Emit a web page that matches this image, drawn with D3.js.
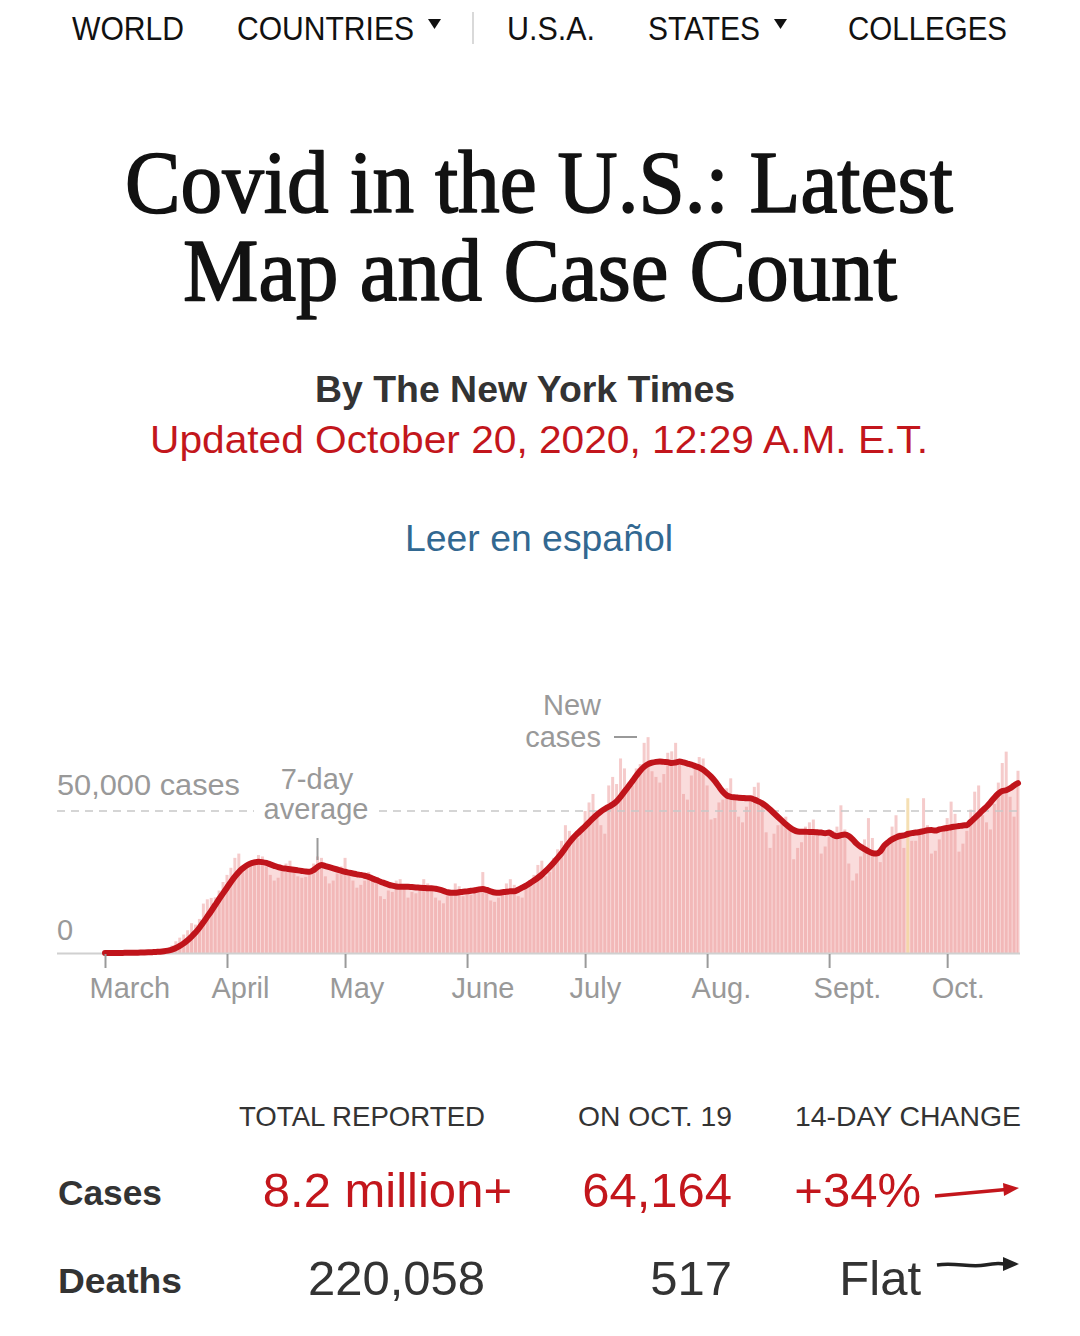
<!DOCTYPE html>
<html><head><meta charset="utf-8">
<script src="https://cdn.jsdelivr.net/npm/d3@7"></script>
<style>html,body{margin:0;padding:0;background:#fff;} svg{display:block;}</style>
</head><body>
<svg id="c" width="1080" height="1336"></svg>
<script>
// ---------------- DATA ----------------
const firstDay = "2020-03-01";
const newCases = [
 8, 23, 23, 26, 77, 70, 115,
 111, 195, 291, 271, 414, 536, 639,
 732, 1144, 1556, 2624, 4130, 5397, 6500,
 8000, 10500, 10000, 12000, 17400, 18900, 19400,
 19600, 22000, 25000, 27500, 30000, 33500, 35000,
 28500, 29800, 31500, 33000, 34500, 34000, 30500,
 27500, 25500, 26500, 30500, 31500, 32500, 30000,
 27000, 26500, 26800, 29000, 31500, 34000, 33500,
 27000, 24500, 25500, 28000, 30500, 33500, 29000,
 25500, 23000, 24000, 25500, 28500, 27000, 25000,
 20000, 19000, 22000, 21500, 25500, 26000, 24000,
 19500, 21500, 21000, 22500, 26000, 24500, 23000,
 19500, 18500, 17500, 20000, 22000, 24500, 23500,
 20000, 21000, 20500, 21500, 22500, 28500, 23000,
 18500, 18000, 19500, 21000, 24500, 26000, 24000,
 20000, 19500, 23000, 25500, 27500, 31000, 32500,
 27000, 28500, 33500, 36500, 39500, 45000, 43000,
 41000, 40500, 44000, 50000, 53000, 56000, 48000,
 45000, 42000, 59000, 62000, 59500, 68500, 65000,
 60000, 59000, 65000, 66500, 74000, 76000, 64000,
 62000, 60000, 63000, 70500, 71000, 74000, 67000,
 56000, 54000, 62500, 66000, 69000, 68500, 59000,
 47000, 47500, 53000, 54000, 58000, 61500, 56000,
 48000, 46000, 51500, 54000, 58500, 60000, 52000,
 42500, 37000, 42000, 45000, 47500, 48000, 45000,
 33000, 37000, 39000, 44500, 46000, 47000, 43500,
 35000, 37500, 41000, 43000, 44500, 52000, 43500,
 31500, 25500, 28000, 34000, 40000, 47500, 40500,
 34500, 32000, 38000, 39500, 44500, 48500, 42500,
 37000, 54500, 39500, 39500, 43000, 54500, 45000,
 35000, 36000, 40000, 44000, 47500, 53300, 49000,
 35700, 38500, 43000, 50500, 56800, 59000, 48500,
 46000, 43500, 52500, 60000, 66900, 70900, 55000,
 48000, 64164
];
const sevenDayAvg = [
 10, 15, 20, 25, 35, 45, 60,
 80, 100, 140, 180, 230, 300, 380,
 470, 620, 850, 1200, 1750, 2500, 3400,
 4500, 5800, 7200, 8900, 10800, 12800, 14800,
 16900, 19000, 21000, 23000, 25000, 26900, 28500,
 29800, 30800, 31500, 31900, 32100, 32000, 31700,
 31200, 30700, 30200, 29900, 29700, 29500, 29300,
 29100, 28900, 28700, 28600, 29200, 30300, 31000,
 30600, 30200, 29800, 29400, 29000, 28600, 28300,
 28000, 27700, 27500, 27200, 26800, 26200, 25700,
 25100, 24600, 24100, 23700, 23400, 23300, 23300,
 23300, 23200, 23100, 23000, 22900, 22800, 22800,
 22600, 22300, 21900, 21400, 21200, 21200, 21400,
 21600, 21700, 21900, 22100, 22400, 22500, 22200,
 21700, 21300, 21200, 21400, 21600, 21700, 21700,
 22300, 23000, 23700, 24600, 25500, 26500, 27600,
 28900, 30300, 31800, 33400, 35100, 37000, 38900,
 40600, 42000, 43300, 44600, 46000, 47400, 48700,
 49800, 50700, 51500, 52300, 53400, 55000, 56800,
 58600, 60500, 62400, 64200, 65600, 66500, 67000,
 67300, 67400, 67300, 67200, 66900, 67100, 67400,
 67100, 66700, 66300, 65800, 65300, 64500, 63400,
 62100, 60500, 58600, 56800, 55500, 55000, 54800,
 54700, 54600, 54500, 54500, 54000, 53400, 52700,
 51700, 50500, 49200, 47900, 46600, 45300, 44200,
 43300, 42800, 42700, 42700, 42600, 42600, 42500,
 42400, 42200, 42400, 41600, 41100, 41500, 41700,
 41200, 40000, 38500, 37400, 36600, 35800, 35200,
 35000, 35800, 37800, 39000, 40000, 40700, 41200,
 41400, 41900, 42200, 42400, 42600, 42900, 43200,
 43300, 43100, 43500, 43800, 44000, 44300, 44500,
 44700, 44900, 45000, 46200, 47500, 48800, 50200,
 51500, 53000, 54700, 56100, 57000, 57300, 58000,
 59000, 59800
];
const flaggedDays = ["2020-09-21"];
const monthTicks = ["2020-03-01","2020-04-01","2020-05-01","2020-06-01","2020-07-01","2020-08-01","2020-09-01","2020-10-01"];
const monthLabels = ["March","April","May","June","July","Aug.","Sept.","Oct."];
const yTickValues = [0, 50000];
const yTickLabels = ["0", "50,000 cases"];
const navItems = ["WORLD","COUNTRIES","U.S.A.","STATES","COLLEGES"];
const navHasMenu = [false, true, false, true, false];
const titleLines = ["Covid in the U.S.: Latest", "Map and Case Count"];
const byline = "By The New York Times";
const updated = "Updated October 20, 2020, 12:29 A.M. E.T.";
const spanishLink = "Leer en español";
const tableHeaders = ["TOTAL REPORTED","ON OCT. 19","14-DAY CHANGE"];
const rowLabels = ["Cases","Deaths"];
const totalReported = ["8.2 million+","220,058"];
const onDay = ["64,164","517"];
const changeLabels = ["+34%","Flat"];

// ---------------- DRAW ----------------
const svg = d3.select("#c");
const SANS = "'Liberation Sans', Arial, sans-serif";
const SERIF = "'Liberation Serif', 'Times New Roman', serif";
const RED = "#c3161c";
const parse = d3.timeParse("%Y-%m-%d");
const day0 = parse(firstDay);
const dates = newCases.map((_, i) => d3.timeDay.offset(day0, i));

// nav
const navPos = [[72,112],[237,177],[507,88],[648,112],[848,159]];
const nav = svg.append("g");
navItems.forEach((t, i) => {
  nav.append("text").attr("x", navPos[i][0]).attr("y", 40)
    .attr("font-family", SANS).attr("font-size", 33).attr("fill", "#111")
    .attr("textLength", navPos[i][1]).attr("lengthAdjust", "spacingAndGlyphs").text(t);
  if (navHasMenu[i]) {
    const tx = navPos[i][0] + navPos[i][1] + 14;
    nav.append("path").attr("d", `M${tx},19 L${tx+13},19 L${tx+6.5},29 Z`).attr("fill", "#111");
  }
});
nav.append("line").attr("x1", 473).attr("x2", 473).attr("y1", 12).attr("y2", 44)
  .attr("stroke", "#ccc").attr("stroke-width", 1.5);

// title
const titlePos = [[125, 212, 828], [183, 300, 714]];
titleLines.forEach((t, i) => {
  svg.append("text").attr("x", titlePos[i][0]).attr("y", titlePos[i][1])
    .attr("font-family", SERIF).attr("font-weight", 400).attr("font-size", 88).attr("fill", "#121212")
    .attr("stroke", "#121212").attr("stroke-width", 1.6).attr("stroke-linejoin", "round")
    .attr("textLength", titlePos[i][2]).attr("lengthAdjust", "spacingAndGlyphs").text(t);
});
svg.append("text").attr("x", 315).attr("y", 402).attr("font-family", SANS).attr("font-weight", 700)
  .attr("font-size", 37).attr("fill", "#333").attr("textLength", 420).attr("lengthAdjust", "spacingAndGlyphs").text(byline);
svg.append("text").attr("x", 150).attr("y", 453).attr("font-family", SANS)
  .attr("font-size", 38).attr("fill", RED).attr("textLength", 778).attr("lengthAdjust", "spacingAndGlyphs").text(updated);
svg.append("text").attr("x", 405).attr("y", 551).attr("font-family", SANS)
  .attr("font-size", 37).attr("fill", "#326891").attr("textLength", 268).attr("lengthAdjust", "spacingAndGlyphs").text(spanishLink);

// chart
const x = d3.scaleTime().domain([day0, dates[dates.length - 1]]).range([105, 1018]);
const y = d3.scaleLinear().domain([0, 50000]).range([953, 811]);
const chart = svg.append("g");

// area under 7-day average
const area = d3.area().x((d, i) => x(dates[i])).y0(y(0)).y1(d => y(d)).curve(d3.curveMonotoneX);
chart.append("path").datum(sevenDayAvg).attr("d", area).attr("fill", "#fadcdc");

// bars
const bw = 3.0;
const flagged = new Set(flaggedDays);
const fmt = d3.timeFormat("%Y-%m-%d");
chart.append("g").selectAll("rect").data(newCases).join("rect")
  .attr("x", (d, i) => x(dates[i]) - bw / 2)
  .attr("width", bw)
  .attr("y", d => y(d))
  .attr("height", d => y(0) - y(d))
  .attr("fill", (d, i) => flagged.has(fmt(dates[i])) ? "#f1d49a" : "#e88c8c")
  .attr("fill-opacity", (d, i) => flagged.has(fmt(dates[i])) ? 0.75 : 0.45);

// gridline at 50,000
chart.append("line").attr("x1", 57).attr("x2", 1020).attr("y1", y(yTickValues[1])).attr("y2", y(yTickValues[1]))
  .attr("stroke", "#c8c8c8").attr("stroke-width", 1.5).attr("stroke-dasharray", "8,6");
// baseline
chart.append("line").attr("x1", 57).attr("x2", 1020).attr("y1", y(0) + 0.5).attr("y2", y(0) + 0.5)
  .attr("stroke", "#d0d0d0").attr("stroke-width", 2);

// 7-day average line
const line = d3.line().x((d, i) => x(dates[i])).y(d => y(d)).curve(d3.curveMonotoneX);
chart.append("path").datum(sevenDayAvg).attr("d", line).attr("fill", "none")
  .attr("stroke", "#c0141b").attr("stroke-width", 6).attr("stroke-linejoin", "round").attr("stroke-linecap", "round");

// x axis
const xAxis = d3.axisBottom(x).tickValues(monthTicks.map(parse)).tickSize(14)
  .tickFormat((d, i) => monthLabels[i]);
const ax = chart.append("g").attr("transform", `translate(0,${y(0) + 1})`).call(xAxis);
ax.select(".domain").remove();
ax.selectAll(".tick line").attr("stroke", "#9a9a9a").attr("stroke-width", 2);
ax.selectAll(".tick text").attr("font-family", SANS).attr("font-size", 29).attr("fill", "#999")
  .attr("text-anchor", "start").attr("dx", -16).attr("dy", null).attr("y", 44);

// y labels
chart.append("text").attr("x", 57).attr("y", 940).attr("font-family", SANS).attr("font-size", 29)
  .attr("fill", "#999").text(yTickLabels[0]);
chart.append("text").attr("x", 57).attr("y", 795).attr("font-family", SANS).attr("font-size", 29)
  .attr("fill", "#999").attr("textLength", 183).attr("lengthAdjust", "spacingAndGlyphs").text(yTickLabels[1]);

// annotations
chart.append("rect").attr("x", 254).attr("y", 798).attr("width", 122).attr("height", 26).attr("fill", "#fff");
chart.append("text").attr("x", 317).attr("y", 789).attr("text-anchor", "middle").attr("font-family", SANS)
  .attr("font-size", 29).attr("fill", "#999").text("7-day");
chart.append("text").attr("x", 316).attr("y", 819).attr("text-anchor", "middle").attr("font-family", SANS)
  .attr("font-size", 29).attr("fill", "#999").text("average");
const ptr = x(parse("2020-04-24"));
chart.append("line").attr("x1", ptr).attr("x2", ptr).attr("y1", 838).attr("y2", 860)
  .attr("stroke", "#999").attr("stroke-width", 2);
chart.append("text").attr("x", 601).attr("y", 715).attr("text-anchor", "end").attr("font-family", SANS)
  .attr("font-size", 29).attr("fill", "#999").text("New");
chart.append("text").attr("x", 601).attr("y", 747).attr("text-anchor", "end").attr("font-family", SANS)
  .attr("font-size", 29).attr("fill", "#999").text("cases");
chart.append("line").attr("x1", 614).attr("x2", 637).attr("y1", 737).attr("y2", 737)
  .attr("stroke", "#999").attr("stroke-width", 2);

// table
const hdrPos = [[239, 246], [578, 154], [795, 226]];
tableHeaders.forEach((t, i) => {
  svg.append("text").attr("x", hdrPos[i][0]).attr("y", 1126).attr("font-family", SANS)
    .attr("font-size", 28).attr("fill", "#333").attr("textLength", hdrPos[i][1])
    .attr("lengthAdjust", "spacingAndGlyphs").text(t);
});
const rowY = [1206, 1294];
const rowW = [104, 124];
rowLabels.forEach((t, i) => {
  svg.append("text").attr("x", 58).attr("y", rowY[i] - 1).attr("font-family", SANS).attr("font-weight", 700)
    .attr("font-size", 35).attr("fill", "#333").attr("textLength", rowW[i])
    .attr("lengthAdjust", "spacingAndGlyphs").text(t);
  const col = i === 0 ? RED : "#333";
  svg.append("text").attr("x", 512 - (i === 1 ? 27 : 0)).attr("y", rowY[i] + 1).attr("text-anchor", "end")
    .attr("font-family", SANS).attr("font-size", 49).attr("fill", col).text(totalReported[i]);
  svg.append("text").attr("x", 732).attr("y", rowY[i] + 1).attr("text-anchor", "end")
    .attr("font-family", SANS).attr("font-size", 49).attr("fill", col).text(onDay[i]);
  svg.append("text").attr("x", 921).attr("y", rowY[i] + 1).attr("text-anchor", "end")
    .attr("font-family", SANS).attr("font-size", 49).attr("fill", col).text(changeLabels[i]);
});
// trend arrows
svg.append("path").attr("d", "M935,1196 L1006,1189.5").attr("stroke", RED).attr("stroke-width", 3.5).attr("fill", "none");
svg.append("path").attr("d", "M1003,1183 L1019,1188 L1004,1196 Z").attr("fill", RED);
svg.append("path").attr("d", "M937,1265 C955,1262 970,1268 985,1265 S1000,1264 1006,1264").attr("stroke", "#222")
  .attr("stroke-width", 3.5).attr("fill", "none");
svg.append("path").attr("d", "M1003,1257 L1019,1264 L1003,1271 Z").attr("fill", "#222");
</script>
</body></html>
